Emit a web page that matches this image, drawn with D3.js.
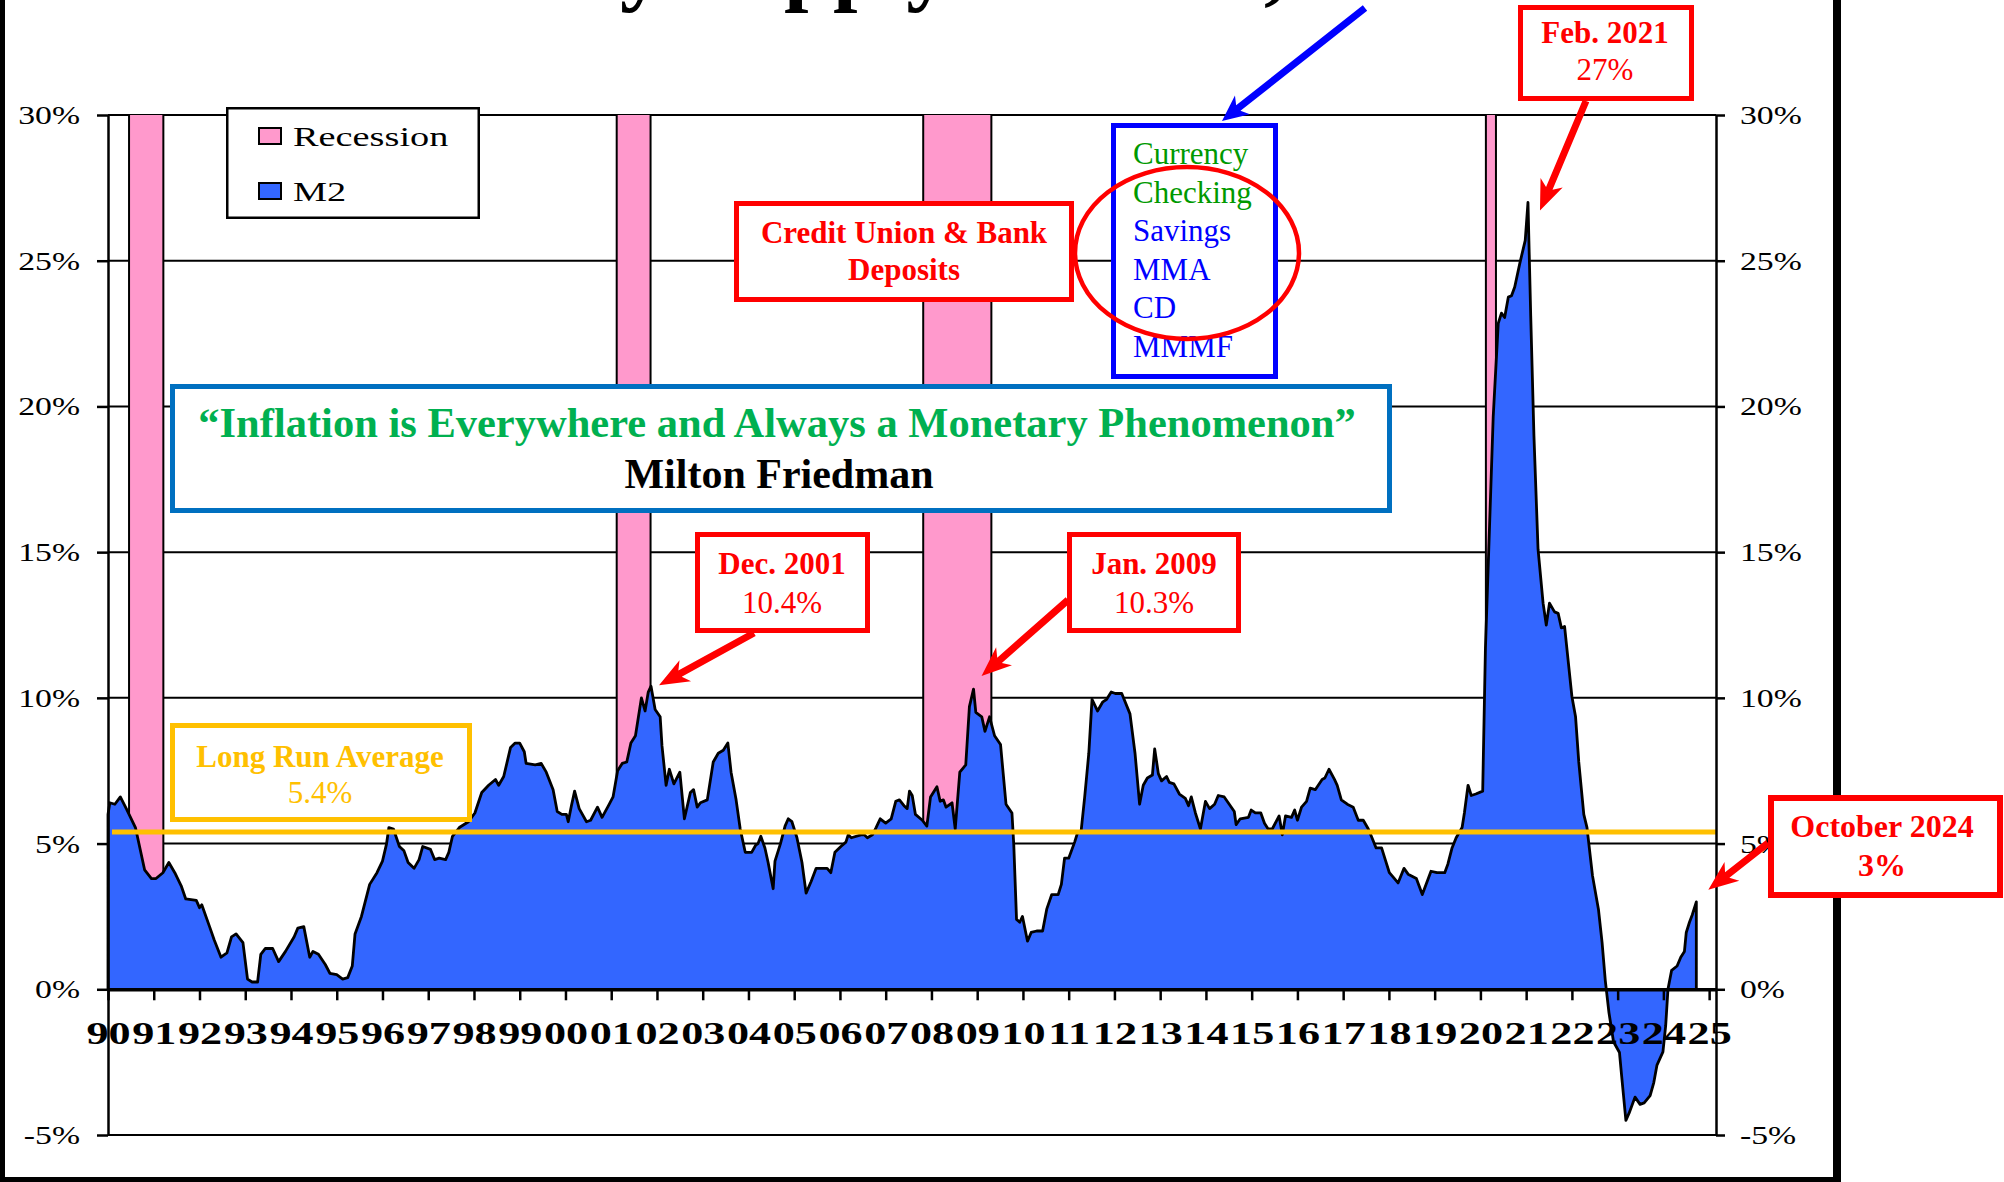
<!DOCTYPE html>
<html>
<head>
<meta charset="utf-8">
<script src="https://cdn.jsdelivr.net/npm/d3@7"></script>
<style>
  html, body { margin: 0; padding: 0; background: #fff; }
  svg { display: block; }
</style>
</head>
<body>
<svg id="chart" width="2004" height="1182"></svg>
<script>
// M2 money supply, year-over-year growth (%), by decimal year
const m2Dates = [
  1990.00,1990.04,1990.15,1990.27,1990.40,1990.60,1990.80,1990.95,1991.05,1991.20,1991.33,1991.46,1991.60,1991.70,1991.93,
  1992.00,1992.05,1992.22,1992.32,1992.47,1992.60,1992.70,1992.80,1992.95,1993.05,1993.15,1993.27,1993.34,1993.44,1993.60,
  1993.73,1993.88,1994.07,1994.15,1994.28,1994.41,1994.48,1994.60,1994.75,1994.85,1995.00,1995.13,1995.24,1995.34,1995.40,
  1995.54,1995.72,1995.88,1996.00,1996.09,1996.14,1996.24,1996.37,1996.47,1996.56,1996.69,1996.80,1996.88,1997.05,1997.14,
  1997.24,1997.38,1997.45,1997.53,1997.68,1997.88,1998.02,1998.17,1998.32,1998.47,1998.54,1998.65,1998.80,1998.90,1999.00,
  1999.10,1999.14,1999.34,1999.47,1999.58,1999.73,1999.82,1999.92,2000.02,2000.06,2000.13,2000.20,2000.30,2000.46,2000.55,
  2000.70,2000.80,2000.94,2001.04,2001.14,2001.24,2001.34,2001.43,2001.53,2001.66,2001.74,2001.81,2001.87,2001.96,2002.07,
  2002.11,2002.20,2002.27,2002.37,2002.50,2002.60,2002.73,2002.80,2002.88,2002.95,2003.10,2003.23,2003.34,2003.45,2003.55,
  2003.62,2003.73,2003.82,2003.93,2004.07,2004.16,2004.21,2004.27,2004.36,2004.43,2004.54,2004.58,2004.70,2004.80,2004.87,
  2004.95,2005.06,2005.17,2005.26,2005.37,2005.48,2005.60,2005.72,2005.80,2005.89,2006.02,2006.13,2006.18,2006.25,2006.46,
  2006.53,2006.60,2006.71,2006.79,2006.88,2007.00,2007.12,2007.22,2007.30,2007.40,2007.47,2007.52,2007.58,2007.65,2007.80,
  2007.90,2007.98,2008.12,2008.19,2008.26,2008.32,2008.45,2008.52,2008.62,2008.75,2008.83,2008.92,2008.97,2009.10,2009.17,
  2009.27,2009.38,2009.51,2009.63,2009.76,2009.80,2009.86,2009.93,2009.99,2010.10,2010.18,2010.30,2010.43,2010.52,2010.63,
  2010.77,2010.84,2010.91,2011.00,2011.13,2011.20,2011.27,2011.35,2011.44,2011.51,2011.63,2011.74,2011.83,2011.93,2012.02,
  2012.16,2012.34,2012.45,2012.55,2012.63,2012.72,2012.83,2012.88,2012.96,2013.03,2013.14,2013.20,2013.30,2013.42,2013.55,
  2013.62,2013.68,2013.77,2013.88,2013.99,2014.08,2014.19,2014.27,2014.40,2014.51,2014.62,2014.66,2014.75,2014.93,2014.99,
  2015.08,2015.20,2015.28,2015.36,2015.45,2015.60,2015.67,2015.74,2015.87,2015.94,2016.00,2016.09,2016.20,2016.28,2016.39,
  2016.54,2016.60,2016.69,2016.81,2016.87,2016.96,2017.09,2017.22,2017.33,2017.44,2017.55,2017.63,2017.72,2017.84,2017.92,
  2018.01,2018.20,2018.33,2018.42,2018.60,2018.73,2018.92,2019.05,2019.22,2019.29,2019.38,2019.47,2019.60,2019.65,2019.73,
  2019.80,2019.90,2020.05,2020.11,2020.20,2020.28,2020.39,2020.46,2020.53,2020.61,2020.68,2020.75,2020.86,2020.98,2021.04,
  2021.10,2021.17,2021.26,2021.37,2021.44,2021.51,2021.62,2021.70,2021.77,2021.84,2021.91,2022.00,2022.08,2022.15,2022.26,
  2022.33,2022.45,2022.58,2022.66,2022.73,2022.81,2022.91,2023.04,2023.08,2023.18,2023.25,2023.38,2023.49,2023.58,2023.71,
  2023.79,2023.86,2023.99,2024.05,2024.10,2024.18,2024.30,2024.38,2024.46,2024.50,2024.57,2024.63,2024.72
];
const m2Growth = [
  6.0,6.4,6.35,6.6,6.2,5.55,4.1,3.8,3.8,4.0,4.35,4.0,3.55,3.1,3.05,
  2.8,2.9,2.15,1.7,1.1,1.25,1.8,1.9,1.6,0.35,0.25,0.25,1.2,1.4,1.4,
  0.95,1.3,1.8,2.1,2.15,1.1,1.3,1.2,0.85,0.55,0.5,0.35,0.4,0.8,1.9,
  2.5,3.6,4.0,4.4,5.0,5.55,5.5,4.9,4.75,4.35,4.15,4.45,4.9,4.8,4.45,
  4.5,4.45,4.7,5.25,5.55,5.75,6.05,6.75,7.0,7.2,7.0,7.3,8.3,8.45,8.45,
  8.15,7.75,7.7,7.75,7.45,6.85,6.1,6.0,6.0,5.75,6.3,6.8,6.2,5.75,5.8,
  6.25,5.9,6.3,6.6,7.5,7.75,7.8,8.45,8.7,10.0,9.55,10.2,10.4,9.6,9.35,
  8.35,7.0,7.55,7.05,7.45,5.85,6.75,6.85,6.25,6.4,6.5,7.8,8.1,8.2,8.45,
  7.45,6.5,5.5,4.7,4.7,4.95,5.0,5.25,4.85,4.35,3.45,4.4,5.0,5.6,5.85,
  5.75,5.2,4.35,3.3,3.7,4.15,4.15,4.15,4.0,4.7,4.9,5.05,5.3,5.2,5.3,
  5.3,5.2,5.3,5.55,5.85,5.7,5.85,6.45,6.5,6.3,6.2,6.8,6.65,6.0,5.8,
  5.6,6.6,6.95,6.45,6.5,6.25,6.4,5.5,7.45,7.7,9.7,10.3,9.5,9.35,8.85,
  9.35,8.7,8.4,6.35,6.05,4.95,2.4,2.3,2.5,1.65,1.95,2.0,2.0,2.75,3.25,
  3.25,3.6,4.5,4.5,5.05,5.4,5.4,6.6,8.1,9.95,9.55,9.85,9.95,10.2,10.15,
  10.15,9.45,8.1,6.35,7.0,7.25,7.35,8.25,7.4,7.15,7.3,7.1,7.05,6.7,6.55,
  6.3,6.6,6.05,5.5,6.45,6.2,6.35,6.65,6.6,6.35,6.1,5.65,5.85,5.9,6.15,
  6.05,6.05,5.7,5.5,5.5,5.95,5.3,5.95,5.9,6.15,5.8,6.25,6.45,6.9,6.85,
  7.2,7.25,7.55,7.2,7.0,6.5,6.35,6.25,5.8,5.8,5.5,5.2,4.85,4.85,4.45,
  4.0,3.65,4.15,3.95,3.8,3.25,4.05,4.0,4.0,4.3,4.85,5.2,5.55,6.05,7.0,
  6.65,6.7,6.8,11.7,15.9,19.65,22.85,23.2,23.05,23.75,23.8,24.1,24.9,25.7,27.0,
  23.1,19.0,15.1,13.25,12.5,13.25,12.95,12.9,12.4,12.45,11.4,10.05,9.35,7.8,6.0,
  5.55,3.9,2.75,1.6,0.3,-0.8,-1.8,-2.17,-2.85,-4.5,-4.25,-3.7,-3.95,-3.9,-3.65,
  -3.2,-2.6,-2.15,-1.25,0.0,0.65,0.8,1.1,1.3,1.95,2.3,2.55,3.0
];

// NBER recessions (decimal years)
const recessionStart = [1990.46, 2001.12, 2007.82, 2020.12];
const recessionEnd   = [1991.21, 2001.86, 2009.31, 2020.34];

const longRunAverage = 5.4;

const yTicks = [-5, 0, 5, 10, 15, 20, 25, 30];
const yTickLabels = ["-5%", "0%", "5%", "10%", "15%", "20%", "25%", "30%"];
const yearLabels = ["90","91","92","93","94","95","96","97","98","99","00","01","02","03","04","05","06","07",
                    "08","09","10","11","12","13","14","15","16","17","18","19","20","21","22","23","24","25"];
const yearTicks = yearLabels.map((s, i) => 1990 + i);

const componentNames  = ["Currency", "Checking", "Savings", "MMA", "CD", "MMMF"];
const componentColors = ["#009900", "#009900", "#0000ff", "#0000ff", "#0000ff", "#0000ff"];

// ---------------------------------------------------------------------------
const W = 2004, H = 1182;
const SERIF = '"Liberation Serif","Times New Roman",Times,serif';
const plot = { left: 108, right: 1716, top: 115, bottom: 1135 };
const AX_SX = 1.35;   // chart-object text is drawn horizontally widened

const x = d3.scaleLinear().domain([1990, 2025.15]).range([plot.left, plot.right]);
const y = d3.scaleLinear().domain([-5, 30]).range([plot.bottom, plot.top]);

const svg = d3.select("#chart");
svg.append("rect").attr("width", W).attr("height", H).attr("fill", "#fff");

// Title, mostly above the top edge
svg.append("text")
  .attr("x", 405).attr("y", -6.5)
  .attr("font-family", SERIF).attr("font-weight", "bold").attr("font-size", 88)
  .text("Money Supply Growth, M2");

// Horizontal gridlines
svg.append("g").selectAll("line")
  .data(yTicks.filter(d => d !== 0))
  .join("line")
  .attr("x1", plot.left).attr("x2", plot.right)
  .attr("y1", d => y(d)).attr("y2", d => y(d))
  .attr("stroke", "#000").attr("stroke-width", 2);

// Recession bands
const recessions = recessionStart.map((s, i) => ({ start: s, end: recessionEnd[i] }));
const recG = svg.append("g");
recG.selectAll("rect").data(recessions).join("rect")
  .attr("x", d => x(d.start)).attr("width", d => x(d.end) - x(d.start))
  .attr("y", y(30)).attr("height", y(0) - y(30))
  .attr("fill", "#ff99cc");
recG.selectAll("line.l").data(recessions).join("line").attr("class", "l")
  .attr("x1", d => x(d.start)).attr("x2", d => x(d.start))
  .attr("y1", y(30)).attr("y2", y(0)).attr("stroke", "#000").attr("stroke-width", 2);
recG.selectAll("line.r").data(recessions).join("line").attr("class", "r")
  .attr("x1", d => x(d.end)).attr("x2", d => x(d.end))
  .attr("y1", y(30)).attr("y2", y(0)).attr("stroke", "#000").attr("stroke-width", 2);

// M2 growth area
const series = m2Dates.map((d, i) => ({ date: d, value: m2Growth[i] }));
const area = d3.area().x(d => x(d.date)).y0(y(0)).y1(d => y(d.value));
svg.append("path")
  .datum(series)
  .attr("d", area)
  .attr("fill", "#3366ff")
  .attr("stroke", "#000").attr("stroke-width", 2.8)
  .attr("stroke-linejoin", "round");

// Long run average
svg.append("line")
  .attr("x1", plot.left + 4).attr("x2", plot.right)
  .attr("y1", y(longRunAverage)).attr("y2", y(longRunAverage))
  .attr("stroke", "#ffc000").attr("stroke-width", 5);

// Axes
const leftAxis = svg.append("g").attr("transform", `translate(${plot.left},0)`)
  .call(d3.axisLeft(y).tickValues(yTicks).tickSize(11).tickSizeOuter(0)
        .tickFormat((d, i) => yTickLabels[i]));
const rightAxis = svg.append("g").attr("transform", `translate(${plot.right},0)`)
  .call(d3.axisRight(y).tickValues(yTicks).tickSize(9).tickSizeOuter(0)
        .tickFormat((d, i) => yTickLabels[i]));
const bottomAxis = svg.append("g").attr("transform", `translate(0,${y(0)})`)
  .call(d3.axisBottom(x).tickValues(yearTicks).tickSize(11).tickSizeOuter(0)
        .tickFormat((d, i) => yearLabels[i]));

[leftAxis, rightAxis].forEach(g => {
  g.select(".domain").attr("stroke", "#000").attr("stroke-width", 2.5);
  g.selectAll(".tick line").attr("stroke", "#000").attr("stroke-width", 2.5);
});
bottomAxis.select(".domain").attr("stroke", "#000").attr("stroke-width", 3.5);
bottomAxis.selectAll(".tick line").attr("stroke", "#000").attr("stroke-width", 2.5);

leftAxis.selectAll(".tick text")
  .attr("font-family", SERIF).attr("font-size", 25).attr("fill", "#000")
  .attr("text-anchor", "end").attr("dy", null).attr("y", 8.5)
  .attr("x", -28 / AX_SX).attr("transform", `scale(${AX_SX},1)`);
rightAxis.selectAll(".tick text")
  .attr("font-family", SERIF).attr("font-size", 25).attr("fill", "#000")
  .attr("text-anchor", "start").attr("dy", null).attr("y", 8.5)
  .attr("x", 24 / AX_SX).attr("transform", `scale(${AX_SX},1)`);
bottomAxis.selectAll(".tick text")
  .attr("font-family", SERIF).attr("font-size", 32).attr("font-weight", "bold").attr("fill", "#000")
  .attr("dy", null).attr("y", 55)
  .attr("transform", `scale(1.38,1)`);

// Page frame
svg.append("rect").attr("x", 0).attr("y", 0).attr("width", 5).attr("height", H).attr("fill", "#000");
svg.append("rect").attr("x", 1833).attr("y", 0).attr("width", 8).attr("height", H).attr("fill", "#000");
svg.append("rect").attr("x", 0).attr("y", H - 5).attr("width", 1841).attr("height", 5).attr("fill", "#000");

// ---------------------------------------------------------------------------
// helpers for callouts
function box(x0, y0, x1, y1, color, sw) {
  svg.append("rect")
    .attr("x", x0 + sw / 2).attr("y", y0 + sw / 2)
    .attr("width", x1 - x0 - sw).attr("height", y1 - y0 - sw)
    .attr("fill", "#fff").attr("stroke", color).attr("stroke-width", sw);
}
function label(tx, ty, str, opts) {
  return svg.append("text")
    .attr("x", tx).attr("y", ty)
    .attr("font-family", SERIF)
    .attr("font-size", opts.size)
    .attr("font-weight", opts.bold ? "bold" : "normal")
    .attr("fill", opts.color)
    .attr("text-anchor", opts.anchor || "middle")
    .text(str);
}
function arrow(x1, y1, x2, y2, color, w, headLen, headW) {
  const dx = x2 - x1, dy = y2 - y1, L = Math.hypot(dx, dy);
  const ux = dx / L, uy = dy / L, nx = -uy, ny = ux;
  const bx = x2 - ux * headLen, by = y2 - uy * headLen;
  const kx = x2 - ux * headLen * 0.8, ky = y2 - uy * headLen * 0.8;
  const pts = [
    [x1 + nx * w / 2, y1 + ny * w / 2],
    [kx + nx * w / 2, ky + ny * w / 2],
    [bx + nx * headW / 2, by + ny * headW / 2],
    [x2, y2],
    [bx - nx * headW / 2, by - ny * headW / 2],
    [kx - nx * w / 2, ky - ny * w / 2],
    [x1 - nx * w / 2, y1 - ny * w / 2]
  ];
  svg.append("polygon").attr("points", pts.map(p => p.join(",")).join(" ")).attr("fill", color);
}

// Legend
box(226, 107, 480, 219, "#000", 2.5);
[["Recession", "#ff99cc", 136], ["M2", "#3366ff", 191]].forEach(([name, col, cy]) => {
  svg.append("rect").attr("x", 259).attr("y", cy - 8).attr("width", 22).attr("height", 16)
    .attr("fill", col).attr("stroke", "#000").attr("stroke-width", 2);
  svg.append("text")
    .attr("transform", `translate(293,${cy + 10}) scale(1.42,1)`)
    .attr("font-family", SERIF).attr("font-size", 27).attr("fill", "#000")
    .text(name);
});

// Deposits callout
box(734, 201, 1074, 302, "#ff0000", 5);
label(904, 243, "Credit Union & Bank", { size: 31, bold: true, color: "#ff0000" });
label(904, 280, "Deposits", { size: 31, bold: true, color: "#ff0000" });

// M2 components
box(1111, 123, 1278, 379, "#0000ff", 5);
componentNames.forEach((name, i) => {
  label(1133, 164 + i * 38.5, name, { size: 31, color: componentColors[i], anchor: "start" });
});
svg.append("ellipse").attr("cx", 1187).attr("cy", 253).attr("rx", 112).attr("ry", 86)
  .attr("fill", "none").attr("stroke", "#ff0000").attr("stroke-width", 4.5);
arrow(1365, 8, 1222, 121, "#0000ff", 7, 26, 24);

// Friedman quote
box(170, 384, 1392, 513, "#0070c0", 5);
label(777, 437, "\u201CInflation is Everywhere and Always a Monetary Phenomenon\u201D",
      { size: 42.5, bold: true, color: "#00b050" });
label(779, 488, "Milton Friedman", { size: 42, bold: true, color: "#000" });

// Long run average callout
box(170, 723, 472, 822, "#ffc000", 5);
label(320, 767, "Long Run Average", { size: 31, bold: true, color: "#ffc000" });
label(320, 803, longRunAverage + "%", { size: 31, color: "#ffc000" });

// Peak / trough callouts, anchored to the data
const peak2001 = series.find(d => d.date === 2001.87);
const peak2009 = series.find(d => d.date === 2008.92);
const peak2021 = series.find(d => d.date === 2021.04);
const last = series[series.length - 1];

box(695, 532, 870, 633, "#ff0000", 5);
label(782, 574, "Dec. 2001", { size: 31, bold: true, color: "#ff0000" });
label(782, 613, peak2001.value + "%", { size: 31, color: "#ff0000" });
arrow(754, 633, x(peak2001.date) + 8, y(peak2001.value) - 1, "#ff0000", 7, 30, 24);

box(1067, 532, 1241, 633, "#ff0000", 5);
label(1154, 574, "Jan. 2009", { size: 31, bold: true, color: "#ff0000" });
label(1154, 613, peak2009.value + "%", { size: 31, color: "#ff0000" });
arrow(1068, 600, x(peak2009.date) + 8, y(peak2009.value) - 13, "#ff0000", 7, 30, 24);

box(1518, 5, 1694, 101, "#ff0000", 5);
label(1605, 43, "Feb. 2021", { size: 31, bold: true, color: "#ff0000" });
label(1605, 80, Math.round(peak2021.value) + "%", { size: 31, color: "#ff0000" });
arrow(1586, 101, x(peak2021.date) + 12, y(peak2021.value) + 8, "#ff0000", 7, 30, 24);

box(1768, 795, 2003, 898, "#ff0000", 6);
label(1882, 837, "October 2024", { size: 32, bold: true, color: "#ff0000" });
label(1882, 876, Math.round(last.value) + "%", { size: 32, bold: true, color: "#ff0000" });
arrow(1768, 843, x(last.date) + 12, y(last.value) - 12, "#ff0000", 7, 30, 24);
</script>
</body>
</html>
